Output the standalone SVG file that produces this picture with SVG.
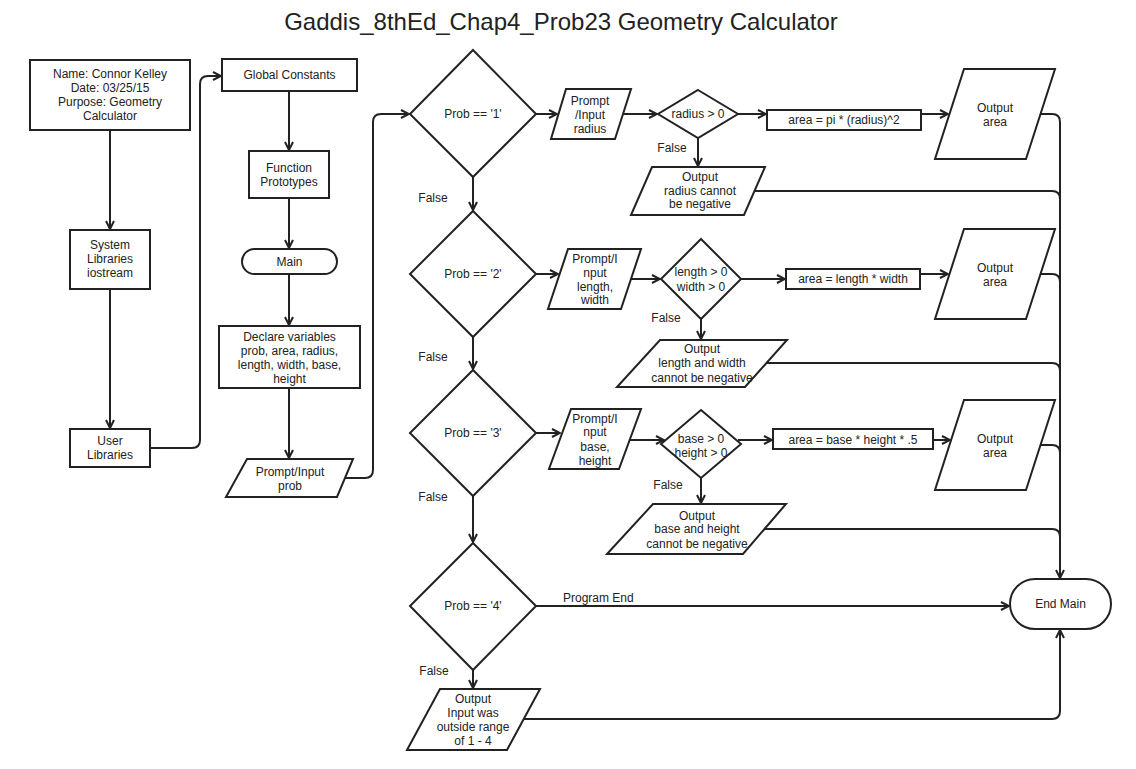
<svg xmlns="http://www.w3.org/2000/svg" width="1136" height="769" viewBox="0 0 1136 769">
<defs>
<style>
.s{fill:#fff;stroke:#222;stroke-width:2}
.t{font-family:"Liberation Sans",Arial,sans-serif;font-size:12px;fill:#222;text-anchor:middle}
.l{font-family:"Liberation Sans",Arial,sans-serif;font-size:12px;fill:#222}
.c{fill:none;stroke:#222;stroke-width:2}
.a{marker-end:url(#arr)}
</style>
<marker id="arr" viewBox="0 0 10 10" refX="9" refY="5" markerWidth="10" markerHeight="10" markerUnits="userSpaceOnUse" orient="auto">
<path d="M1,1 L9,5 L1,9" fill="none" stroke="#222" stroke-width="2"/>
</marker>
</defs>
<rect width="1136" height="769" fill="#fff"/>
<text x="561" y="30" style="font-family:'Liberation Sans',Arial,sans-serif;font-size:24px;fill:#222;text-anchor:middle">Gaddis_8thEd_Chap4_Prob23 Geometry Calculator</text>

<g id="connectors">
<path class="c a" d="M110,130 V229"/>
<path class="c a" d="M110,289 V428"/>
<path class="c a" d="M150,448 H192 Q200,448 200,440 V84 Q200,76 208,76 H221"/>
<path class="c a" d="M289,91 V150"/>
<path class="c a" d="M289,198 V248"/>
<path class="c a" d="M289,274 V325"/>
<path class="c a" d="M289,388 V458"/>
<path class="c a" d="M345,478 H365 Q373,478 373,470 V122 Q373,114 381,114 H409"/>
<path class="c a" d="M536,114 H557"/>
<path class="c a" d="M623,114 H657"/>
<path class="c a" d="M738,114 H766"/>
<path class="c a" d="M921,114 H948"/>
<path class="c a" d="M1040,114 H1052 Q1060,114 1060,122 V578"/>
<path class="c a" d="M698,138 V166"/>
<path class="c" d="M754,191 H1052 Q1060,191 1060,199"/>
<path class="c a" d="M473,177 V210"/>
<path class="c a" d="M536,274 H558"/>
<path class="c a" d="M631,279 H660"/>
<path class="c a" d="M741,279 H785"/>
<path class="c a" d="M920,274 H948"/>
<path class="c" d="M1040,274 H1052 Q1060,274 1060,282"/>
<path class="c a" d="M701,319 V339"/>
<path class="c" d="M766,363 H1052 Q1060,363 1060,371"/>
<path class="c a" d="M473,337 V369"/>
<path class="c a" d="M536,433 H560"/>
<path class="c a" d="M630,440 H664"/>
<path class="c a" d="M738,440 H772"/>
<path class="c a" d="M933,440 H950"/>
<path class="c" d="M1040,445 H1052 Q1060,445 1060,453"/>
<path class="c a" d="M701,478 V503"/>
<path class="c" d="M764,529 H1052 Q1060,529 1060,537"/>
<path class="c a" d="M473,496 V542"/>
<path class="c a" d="M536,606 H1009"/>
<path class="c a" d="M473,670 V688"/>
<path class="c a" d="M523,719 H1052 Q1060,719 1060,711 V630"/>
<text class="l" x="563" y="602">Program End</text>
<text class="t" x="433" y="202">False</text>
<text class="t" x="433" y="361">False</text>
<text class="t" x="433" y="501">False</text>
<text class="t" x="434" y="675">False</text>
<text class="t" x="672" y="152">False</text>
<text class="t" x="666" y="322">False</text>
<text class="t" x="668" y="489">False</text>
</g>

<g id="header">
<rect class="s" x="30" y="60" width="160" height="70"/>
<text class="t" x="110" y="78">Name: Connor Kelley</text>
<text class="t" x="110" y="92">Date: 03/25/15</text>
<text class="t" x="110" y="106">Purpose: Geometry</text>
<text class="t" x="110" y="120">Calculator</text>
</g>
<g id="syslib">
<rect class="s" x="70" y="230" width="80" height="59"/>
<text class="t" x="110" y="249">System</text>
<text class="t" x="110" y="263">Libraries</text>
<text class="t" x="110" y="277">iostream</text>
</g>
<g id="userlib">
<rect class="s" x="70" y="429" width="80" height="38"/>
<text class="t" x="110" y="445">User</text>
<text class="t" x="110" y="459">Libraries</text>
</g>
<g id="globals">
<rect class="s" x="222" y="59" width="135" height="32"/>
<text class="t" x="289.5" y="79">Global Constants</text>
</g>
<g id="protos">
<rect class="s" x="249" y="151" width="80" height="47"/>
<text class="t" x="289" y="172">Function</text>
<text class="t" x="289" y="186">Prototypes</text>
</g>
<g id="main">
<rect class="s" x="242" y="249" width="95" height="25" rx="12.5"/>
<text class="t" x="289.5" y="266">Main</text>
</g>
<g id="declare">
<rect class="s" x="219" y="326" width="141" height="62"/>
<text class="t" x="289.5" y="341">Declare variables</text>
<text class="t" x="289.5" y="355">prob, area, radius,</text>
<text class="t" x="289.5" y="369">length, width, base,</text>
<text class="t" x="289.5" y="383">height</text>
</g>
<g id="inprob">
<polygon class="s" points="247,459 353,459 337,497 226,497"/>
<text class="t" x="290" y="476">Prompt/Input</text>
<text class="t" x="290" y="490">prob</text>
</g>

<g id="d1">
<polygon class="s" points="473,50 536,114 473,177 410,114"/>
<text class="t" x="473" y="118">Prob == '1'</text>
</g>
<g id="in1">
<polygon class="s" points="566,89 631,89 615,139 551,139"/>
<text class="t" x="590" y="105">Prompt</text>
<text class="t" x="590" y="119">/Input</text>
<text class="t" x="590" y="133">radius</text>
</g>
<g id="c1">
<polygon class="s" points="698,90 738,114 698,138 658,114"/>
<text class="t" x="698" y="118">radius &gt; 0</text>
</g>
<g id="calc1">
<rect class="s" x="767" y="110" width="154" height="20"/>
<text class="t" x="844" y="124">area = pi * (radius)^2</text>
</g>
<g id="out1">
<polygon class="s" points="964,69 1055,69 1026,159 935,159"/>
<text class="t" x="995" y="112">Output</text>
<text class="t" x="995" y="126">area</text>
</g>
<g id="err1">
<polygon class="s" points="652,167 765,167 744,215 631,215"/>
<text class="t" x="700" y="181">Output</text>
<text class="t" x="700" y="195">radius cannot</text>
<text class="t" x="700" y="208">be negative</text>
</g>

<g id="d2">
<polygon class="s" points="473,211 536,274 473,337 410,274"/>
<text class="t" x="473" y="278">Prob == '2'</text>
</g>
<g id="in2">
<polygon class="s" points="568,249 641,249 621,309 548,309"/>
<text class="t" x="595" y="263">Prompt/I</text>
<text class="t" x="595" y="277">nput</text>
<text class="t" x="595" y="291">length,</text>
<text class="t" x="595" y="304">width</text>
</g>
<g id="c2">
<polygon class="s" points="701,239 741,279 701,319 661,279"/>
<text class="t" x="701" y="276">length &gt; 0</text>
<text class="t" x="701" y="291">width &gt; 0</text>
</g>
<g id="calc2">
<rect class="s" x="786" y="269" width="134" height="20"/>
<text class="t" x="853" y="283">area = length * width</text>
</g>
<g id="out2">
<polygon class="s" points="964,229 1055,229 1026,319 935,319"/>
<text class="t" x="995" y="272">Output</text>
<text class="t" x="995" y="286">area</text>
</g>
<g id="err2">
<polygon class="s" points="660,340 787,340 745,387 617,387"/>
<text class="t" x="702" y="353">Output</text>
<text class="t" x="702" y="367">length and width</text>
<text class="t" x="702" y="382">cannot be negative</text>
</g>

<g id="d3">
<polygon class="s" points="473,370 536,433 473,496 410,433"/>
<text class="t" x="473" y="437">Prob == '3'</text>
</g>
<g id="in3">
<polygon class="s" points="571,409 641,409 619,469 549,469"/>
<text class="t" x="595" y="423">Prompt/I</text>
<text class="t" x="595" y="436">nput</text>
<text class="t" x="595" y="451">base,</text>
<text class="t" x="595" y="465">height</text>
</g>
<g id="c3">
<polygon class="s" points="701,410 741,444 701,478 661,444"/>
<text class="t" x="701" y="443">base &gt; 0</text>
<text class="t" x="701" y="457">height &gt; 0</text>
</g>
<g id="calc3">
<rect class="s" x="773" y="429" width="160" height="20"/>
<text class="t" x="853" y="444">area = base * height * .5</text>
</g>
<g id="out3">
<polygon class="s" points="964,400 1055,400 1026,490 935,490"/>
<text class="t" x="995" y="443">Output</text>
<text class="t" x="995" y="457">area</text>
</g>
<g id="err3">
<polygon class="s" points="653,504 786,504 743,554 607,554"/>
<text class="t" x="697" y="520">Output</text>
<text class="t" x="697" y="533">base and height</text>
<text class="t" x="697" y="548">cannot be negative</text>
</g>

<g id="d4">
<polygon class="s" points="473,543 536,606 473,670 410,606"/>
<text class="t" x="473" y="610">Prob == '4'</text>
</g>
<g id="err4">
<polygon class="s" points="440,689 540,689 507,750 407,750"/>
<text class="t" x="473" y="703">Output</text>
<text class="t" x="473" y="717">Input was</text>
<text class="t" x="473" y="731">outside range</text>
<text class="t" x="473" y="745">of 1 - 4</text>
</g>
<g id="endmain">
<rect class="s" x="1010" y="579" width="101" height="50" rx="25"/>
<text class="t" x="1060.5" y="608">End Main</text>
</g>
</svg>
